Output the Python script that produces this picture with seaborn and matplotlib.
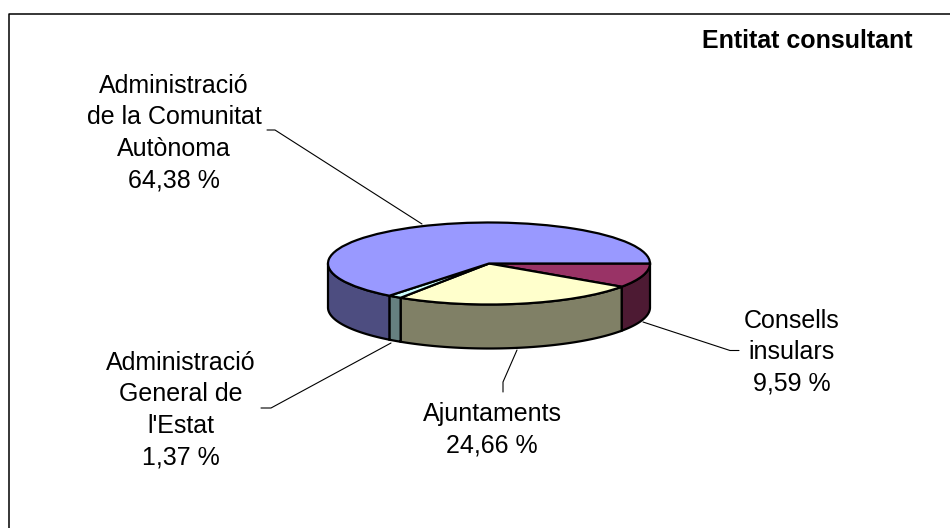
import matplotlib
matplotlib.use("Agg")
import matplotlib.pyplot as plt
from matplotlib.lines import Line2D
from matplotlib.patches import Polygon
import numpy as np
import seaborn as sns

# clockwise from 3 o'clock
categories = ["Consells insulars", "Ajuntaments", "Administració General de l'Estat",
              "Administració de la Comunitat Autònoma"]
shares = [9.59, 24.66, 1.37, 64.38]
top_colors = ["#993366", "#FFFFCC", "#CCFFFF", "#9999FF"]
side_colors = ["#4D1A33", "#808066", "#668080", "#4D4D80"]
title = "Entitat consultant"
label_texts = ["Consells\ninsulars\n9,59 %", "Ajuntaments\n24,66 %",
               "Administració\nGeneral de\nl'Estat\n1,37 %",
               "Administració\nde la Comunitat\nAutònoma\n64,38 %"]

W, H = 950, 528
CX, CY = 489, 263.5
RX, RY = 161, 41
DEPTH = 44 / RY


def px(x, y):
    return x / W, 1 - y / H


sns.set_theme(style="white")
plt.rcParams['font.family'] = ['Liberation Sans', 'DejaVu Sans']

fig = plt.figure(figsize=(W / 100, H / 100), dpi=100, facecolor="white")
ax = fig.add_axes([0, 0, 1, 1])

wedges, _ = ax.pie(shares, colors=sns.color_palette(top_colors), startangle=0, counterclock=False,
                   radius=1, center=(0, 0), frame=True,
                   wedgeprops={"edgecolor": "black", "linewidth": 1.6, "zorder": 3})
ax.set_aspect("auto")
ax.set_xlim(-CX / RX, (W - CX) / RX)
ax.set_ylim(-(H - CY) / RY, CY / RY)
ax.axis("off")

# walls of the disc, only the part of each slice that faces the viewer
for wedge, color in zip(wedges, sns.color_palette(side_colors)):
    start = wedge.theta1 % 360
    end = start + (wedge.theta2 - wedge.theta1)
    a1, a2 = max(start, 180), min(end, 360)
    if a2 <= a1:
        continue
    t = np.radians(np.linspace(a1, a2, 80))
    x, y = np.cos(t), np.sin(t)
    pts = np.r_[np.c_[x, y], np.c_[x, y - DEPTH][::-1]]
    ax.add_patch(Polygon(pts, closed=True, facecolor=color, edgecolor="black", linewidth=1.6, zorder=2))

label_pos = [(792, 352), (492, 430), (181, 410), (174, 133)]
for txt, (lx, ly) in zip(label_texts, label_pos):
    fx, fy = px(lx, ly)
    fig.text(fx, fy, txt, ha="center", va="center", fontsize=18, color="black", linespacing=1.39)

fx, fy = px(912, 41.5)
fig.text(fx, fy, title, ha="right", va="center", fontsize=18, fontweight="bold", color="black")

leaders = [
    [(643, 322), (730, 350.5), (739, 350.5)],
    [(517, 350), (503, 382), (503, 392)],
    [(391, 343), (271, 408), (261, 408)],
    [(422, 224), (275, 130), (267, 130)],
]
for path in leaders:
    xs, ys = zip(*[px(*p) for p in path])
    fig.add_artist(Line2D(xs, ys, color="black", linewidth=0.8))

# chart area border, only left and top fall inside the picture
frame = [(8.75, 528), (8.75, 13.75), (950, 13.75)]
xs, ys = zip(*[px(*p) for p in frame])
fig.add_artist(Line2D(xs, ys, color="black", linewidth=1.1))

fig.savefig("out.png", dpi=100, facecolor="white")
